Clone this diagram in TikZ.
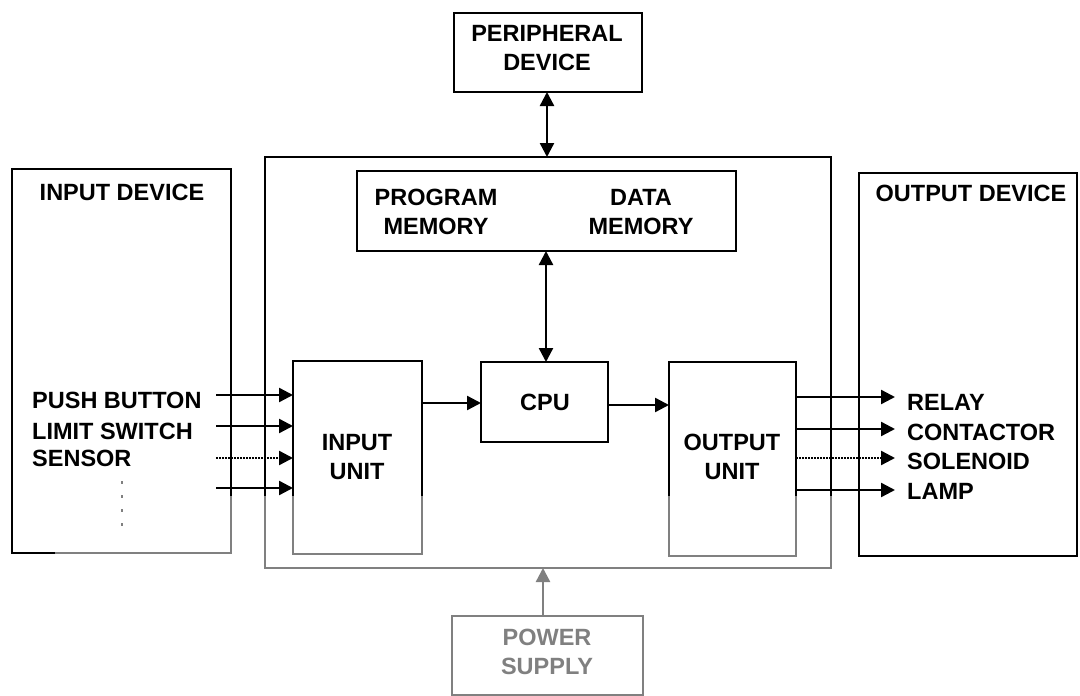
\documentclass[tikz,border=0pt]{standalone}
\usepackage{fontspec}
\setmainfont{Liberation Sans}
\usetikzlibrary{arrows.meta,fit}
\definecolor{scangray}{gray}{0.5}
\begin{document}
\begin{tikzpicture}[x=1pt,y=-1pt,
  box/.style={draw=black,line width=2.4pt,inner sep=0pt,outer sep=0pt,rectangle},
  lbl/.style={font=\fontsize{23.5}{29}\selectfont\bfseries,align=center,inner sep=0pt},
  llbl/.style={font=\fontsize{23.5}{29}\selectfont\bfseries,anchor=west,inner sep=0pt},
  arr/.style={line width=2.4pt,-{Triangle[length=14pt,width=14pt]}},
  darr/.style={line width=2.4pt,{Triangle[length=14pt,width=14pt]}-{Triangle[length=14pt,width=14pt]}},
  dotl/.style={dash pattern=on 2pt off 1pt}]
\useasboundingbox[fill=white] (0,0) rectangle (1080,696);
% boxes
\node[box,fit={(12,169)(231,553)}] (indev) {};
\node[box,fit={(265,157)(831,568)}] (plc) {};
\node[box,fit={(859,173)(1077,556)}] (outdev) {};
\node[box,fit={(357,171)(736,251)}] (mem) {};
\node[box,fit={(293,361)(422,554)}] (inunit) {};
\node[box,fit={(481,362)(608,442)}] (cpu) {};
\node[box,fit={(669,362)(796,556)}] (outunit) {};
\node[box,fit={(454,13)(642,92)}] (periph) {};
\node[box,draw=scangray,fit={(452,616)(643,695)}] (power) {};
% texts
\node[lbl] (tindev) at (122,192) {INPUT DEVICE};
\node[lbl] (toutdev) at (971,193) {OUTPUT DEVICE};
\node[lbl] (tprog) at (436,212) {PROGRAM\\MEMORY};
\node[lbl] (tdata) at (641,212) {DATA\\MEMORY};
\node[lbl] (tinunit) at (357,457) {INPUT\\UNIT};
\node[lbl] (toutunit) at (732,457) {OUTPUT\\UNIT};
\node[lbl] (tcpu) at (545,402) {CPU};
\node[lbl] (tperiph) at (547,48) {PERIPHERAL\\DEVICE};
\node[lbl,text=scangray] (tpower) at (547,652) {POWER\\SUPPLY};
\node[llbl] (push) at (32,400) {PUSH BUTTON};
\node[llbl] (limit) at (32,431) {LIMIT SWITCH};
\node[llbl] (sensor) at (32,458) {SENSOR};
\node[llbl] (relay) at (907,402) {RELAY};
\node[llbl] (contactor) at (907,432) {CONTACTOR};
\node[llbl] (solenoid) at (907,461) {SOLENOID};
\node[llbl] (lamp) at (907,491) {LAMP};
% input connectors
\coordinate (i1) at (216,395);
\coordinate (i2) at (216,426);
\coordinate (i3) at (216,458);
\coordinate (i4) at (216,488);
\draw[arr] (i1) -- (i1 -| inunit.west);
\draw[arr] (i2) -- (i2 -| inunit.west);
\draw[arr,dotl] (i3) -- (i3 -| inunit.west);
\draw[arr] (i4) -- (i4 -| inunit.west);
% output connectors
\coordinate (o1) at (895,397);
\coordinate (o2) at (895,429);
\coordinate (o3) at (895,458);
\coordinate (o4) at (895,490);
\draw[arr] (o1 -| outunit.east) -- (o1);
\draw[arr] (o2 -| outunit.east) -- (o2);
\draw[arr,dotl] (o3 -| outunit.east) -- (o3);
\draw[arr] (o4 -| outunit.east) -- (o4);
% internal connectors
\coordinate (c1) at (0,403);
\coordinate (c2) at (0,405);
\draw[arr] (c1 -| inunit.east) -- (c1 -| cpu.west);
\draw[arr] (c2 -| cpu.east) -- (c2 -| outunit.west);
\coordinate (vm) at (546,0);
\draw[darr] (vm |- mem.south) -- (vm |- cpu.north);
\coordinate (vp) at (547,0);
\draw[darr] (vp |- periph.south) -- (vp |- plc.north);
\coordinate (vs) at (543,0);
\draw[arr,draw=scangray,fill=scangray] (vs |- power.north) -- (vs |- plc.south);
% vertical ellipsis
\coordinate (e1) at (122,481);
\coordinate (e2) at (122,530);
\draw[line width=2pt,draw=scangray,dash pattern=on 3pt off 11pt] (e1) -- (e2);
% faded lower part (scan)
\begin{scope}
\clip (55,496) rectangle (845,700);
\draw[box,draw=scangray] (plc.north west) rectangle (plc.south east);
\draw[box,draw=scangray] (inunit.north west) rectangle (inunit.south east);
\draw[box,draw=scangray] (outunit.north west) rectangle (outunit.south east);
\draw[box,draw=scangray] (indev.north west) rectangle (indev.south east);
\end{scope}
\end{tikzpicture}
\end{document}
